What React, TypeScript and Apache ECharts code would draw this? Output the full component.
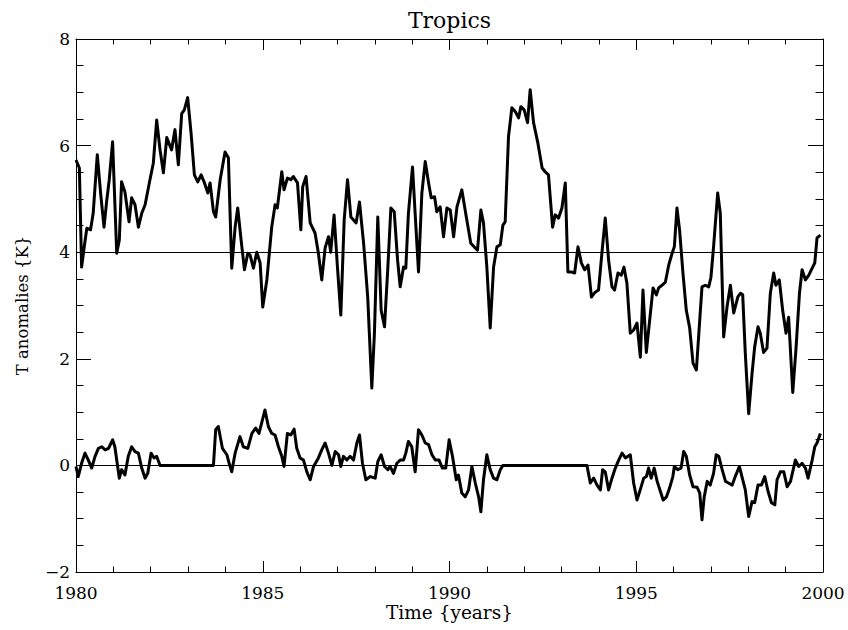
import React, { useEffect, useRef } from "react";
import * as echarts from "echarts";

const titleText = "Tropics";
const xTitle = "Time {years}";
const yTitle = "T anomalies {K}";
const xTicks = [1980, 1985, 1990, 1995, 2000];
const yTicks = [-2, 0, 2, 4, 6, 8];
const refLines = [4, 0];

const upperYears = [
  1980.00, 1980.09, 1980.15, 1980.23, 1980.29, 1980.39, 1980.46, 1980.57, 1980.66, 1980.75, 1980.82, 1980.89,
  1980.98, 1981.09, 1981.16, 1981.22, 1981.31, 1981.42, 1981.49, 1981.58, 1981.67, 1981.76, 1981.85,
  1981.98, 1982.07, 1982.16, 1982.25, 1982.34, 1982.43, 1982.56, 1982.65, 1982.74, 1982.83, 1982.90,
  1982.99, 1983.08, 1983.17, 1983.26, 1983.35, 1983.44, 1983.53, 1983.59, 1983.68, 1983.74, 1983.86,
  1983.99, 1984.08, 1984.17, 1984.26, 1984.33, 1984.42, 1984.51, 1984.60, 1984.66, 1984.75, 1984.84, 1984.93,
  1985.00, 1985.11, 1985.24, 1985.33, 1985.39, 1985.51, 1985.57, 1985.66, 1985.75, 1985.82, 1985.93,
  1986.02, 1986.07, 1986.16, 1986.27, 1986.40, 1986.49, 1986.58, 1986.67, 1986.76, 1986.82, 1986.91,
  1987.00, 1987.09, 1987.18, 1987.27, 1987.36, 1987.50, 1987.59, 1987.70, 1987.81, 1987.92, 1987.99,
  1988.08, 1988.17, 1988.26, 1988.35, 1988.43, 1988.52, 1988.61, 1988.68, 1988.77, 1988.83, 1988.90,
  1989.01, 1989.08, 1989.17, 1989.26, 1989.35, 1989.44, 1989.51, 1989.60, 1989.66, 1989.75, 1989.84, 1989.93,
  1990.02, 1990.11, 1990.20, 1990.33, 1990.45, 1990.57, 1990.66, 1990.75, 1990.84, 1990.91,
  1991.00, 1991.09, 1991.18, 1991.27, 1991.36, 1991.43, 1991.49, 1991.58, 1991.67, 1991.76, 1991.85, 1991.91,
  1992.00, 1992.09, 1992.16, 1992.25, 1992.36, 1992.48, 1992.56, 1992.65, 1992.76, 1992.83, 1992.92,
  1993.01, 1993.10, 1993.17, 1993.26, 1993.35, 1993.44, 1993.53, 1993.62, 1993.71, 1993.80, 1993.90, 1993.99,
  1994.08, 1994.17, 1994.26, 1994.35, 1994.42, 1994.51, 1994.60, 1994.67, 1994.75, 1994.84, 1994.93,
  1995.02, 1995.11, 1995.18, 1995.27, 1995.36, 1995.45, 1995.54, 1995.60, 1995.69, 1995.78, 1995.87, 1995.96,
  1996.02, 1996.09, 1996.16, 1996.25, 1996.34, 1996.43, 1996.52, 1996.61, 1996.70, 1996.76, 1996.85, 1996.94,
  1997.00, 1997.07, 1997.18, 1997.25, 1997.34, 1997.43, 1997.52, 1997.61, 1997.72, 1997.79, 1997.85, 1997.92,
  1998.01, 1998.10, 1998.17, 1998.26, 1998.32, 1998.41, 1998.50, 1998.59, 1998.68, 1998.74, 1998.83, 1998.92,
  1999.01, 1999.08, 1999.19, 1999.28, 1999.37, 1999.44, 1999.53, 1999.62, 1999.71, 1999.78, 1999.84, 1999.93,
];
const upperVals = [
  5.73, 5.58, 3.72, 4.15, 4.45, 4.42, 4.73, 5.83, 5.10, 4.47, 4.95, 5.36,
  6.07, 3.98, 4.23, 5.32, 5.13, 4.57, 5.02, 4.89, 4.47, 4.73, 4.89,
  5.36, 5.67, 6.48, 5.92, 5.49, 6.15, 5.92, 6.30, 5.64, 6.60, 6.67,
  6.90, 6.24, 5.45, 5.32, 5.45, 5.30, 5.11, 5.30, 4.76, 4.66, 5.36,
  5.88, 5.77, 3.70, 4.47, 4.83, 4.23, 3.67, 3.98, 3.95, 3.70, 4.00, 3.80,
  2.97, 3.48, 4.47, 4.89, 4.83, 5.51, 5.17, 5.39, 5.36, 5.42, 5.30,
  4.42, 5.23, 5.42, 4.55, 4.36, 3.98, 3.48, 4.08, 4.29, 4.00, 4.70,
  3.72, 2.82, 4.60, 5.36, 4.66, 4.55, 4.94, 4.17, 3.16, 1.45, 2.48,
  4.66, 2.91, 2.60, 3.72, 4.83, 4.76, 3.85, 3.35, 3.72, 3.70, 4.73,
  5.60, 4.73, 3.63, 5.11, 5.70, 5.30, 5.02, 5.04, 4.76, 4.85, 4.29, 4.83,
  4.79, 4.29, 4.85, 5.17, 4.66, 4.17, 4.10, 4.04, 4.79, 4.55,
  3.72, 2.58, 3.72, 4.10, 4.14, 4.51, 4.57, 6.17, 6.71, 6.64, 6.52, 6.73,
  6.67, 6.43, 7.05, 6.43, 6.07, 5.58, 5.51, 5.45, 4.47, 4.70, 4.64,
  4.83, 5.30, 3.63, 3.63, 3.61, 4.10, 3.80, 3.67, 3.76, 3.16, 3.25, 3.29,
  3.98, 4.64, 3.85, 3.35, 3.29, 3.61, 3.57, 3.72, 3.42, 2.48, 2.54,
  2.67, 2.03, 3.29, 2.12, 2.73, 3.33, 3.20, 3.33, 3.38, 3.44, 3.76, 3.98,
  4.10, 4.83, 4.42, 3.61, 2.91, 2.58, 1.92, 1.79, 2.73, 3.35, 3.38, 3.35,
  3.53, 4.10, 5.11, 4.73, 2.41, 2.97, 3.38, 2.86, 3.16, 3.23, 3.20, 2.10,
  0.97, 1.72, 2.22, 2.60, 2.48, 2.12, 2.20, 3.23, 3.61, 3.38, 3.48, 2.91,
  2.48, 2.78, 1.37, 2.22, 3.23, 3.67, 3.48, 3.57, 3.70, 3.80, 4.27, 4.32,
];

const lowerYears = [
  1980.00, 1980.06, 1980.15, 1980.24, 1980.33, 1980.42, 1980.51, 1980.60, 1980.69, 1980.78, 1980.87,
  1980.98, 1981.04, 1981.16, 1981.22, 1981.31, 1981.40, 1981.49, 1981.58, 1981.67, 1981.76, 1981.85, 1981.92,
  1982.01, 1982.09, 1982.16, 1982.25, 1983.68, 1983.74, 1983.81, 1983.92,
  1984.04, 1984.10, 1984.17, 1984.26, 1984.39, 1984.48, 1984.60, 1984.71, 1984.81, 1984.90,
  1985.06, 1985.15, 1985.24, 1985.33, 1985.42, 1985.51, 1985.57, 1985.66, 1985.75, 1985.84, 1985.91,
  1986.00, 1986.09, 1986.18, 1986.27, 1986.36, 1986.49, 1986.58, 1986.67, 1986.76, 1986.85, 1986.94,
  1987.03, 1987.09, 1987.16, 1987.25, 1987.34, 1987.43, 1987.52, 1987.59, 1987.67, 1987.76, 1987.88,
  1988.01, 1988.08, 1988.17, 1988.26, 1988.35, 1988.41, 1988.50, 1988.59, 1988.68, 1988.77, 1988.83, 1988.90, 1988.99,
  1989.08, 1989.17, 1989.26, 1989.35, 1989.44, 1989.53, 1989.62, 1989.72, 1989.81, 1989.90, 1989.99,
  1990.08, 1990.18, 1990.24, 1990.33, 1990.42, 1990.51, 1990.60, 1990.69, 1990.78, 1990.84, 1990.91,
  1991.00, 1991.09, 1991.18, 1991.27, 1991.36, 1991.43, 1993.68, 1993.77, 1993.86, 1993.95,
  1994.04, 1994.10, 1994.17, 1994.26, 1994.35, 1994.44, 1994.53, 1994.62, 1994.71, 1994.84, 1994.93,
  1995.02, 1995.11, 1995.20, 1995.27, 1995.33, 1995.40, 1995.48, 1995.56, 1995.72, 1995.81, 1995.89, 1995.98,
  1996.02, 1996.11, 1996.20, 1996.27, 1996.34, 1996.43, 1996.52, 1996.63, 1996.70, 1996.76, 1996.82, 1996.90, 1996.98,
  1997.07, 1997.14, 1997.21, 1997.30, 1997.39, 1997.47, 1997.57, 1997.65, 1997.76, 1997.92,
  1998.01, 1998.10, 1998.17, 1998.26, 1998.35, 1998.44, 1998.53, 1998.62, 1998.71, 1998.77, 1998.86, 1998.95,
  1999.04, 1999.13, 1999.26, 1999.35, 1999.44, 1999.53, 1999.60, 1999.71, 1999.78, 1999.84, 1999.93,
];
const lowerVals = [
  -0.02, -0.21, 0.04, 0.23, 0.10, -0.05, 0.17, 0.32, 0.35, 0.29, 0.32,
  0.48, 0.35, -0.24, -0.08, -0.18, 0.17, 0.35, 0.26, 0.23, -0.05, -0.24, -0.15,
  0.23, 0.14, 0.17, 0.00, 0.00, 0.67, 0.73, 0.32,
  0.20, 0.04, -0.12, 0.23, 0.54, 0.35, 0.32, 0.60, 0.70, 0.60,
  1.04, 0.73, 0.60, 0.57, 0.35, 0.17, -0.02, 0.60, 0.57, 0.68, 0.32,
  0.14, 0.10, -0.12, -0.27, -0.02, 0.14, 0.29, 0.42, 0.23, 0.00, 0.26,
  0.20, -0.02, 0.17, 0.10, 0.17, 0.10, 0.42, 0.57, 0.04, -0.27, -0.21,
  -0.24, 0.07, 0.20, -0.02, -0.08, -0.02, -0.15, 0.04, 0.10, 0.10, 0.23, 0.45, 0.35,
  -0.12, 0.67, 0.57, 0.42, 0.39, 0.20, 0.10, 0.10, -0.05, -0.05, 0.48,
  0.17, -0.27, -0.18, -0.52, -0.59, -0.46, -0.02, -0.33, -0.59, -0.87, -0.27,
  0.20, -0.08, -0.24, -0.27, -0.08, 0.00, 0.00, -0.33, -0.24, -0.37,
  -0.46, -0.08, -0.12, -0.46, -0.24, -0.05, 0.10, 0.23, 0.14, 0.20, -0.33,
  -0.65, -0.45, -0.24, -0.21, -0.05, -0.24, -0.05, -0.30, -0.65, -0.59, -0.43, -0.21,
  -0.02, -0.08, -0.05, 0.26, 0.17, -0.18, -0.40, -0.41, -0.52, -1.02, -0.59, -0.30, -0.37,
  -0.15, 0.20, 0.17, -0.08, -0.30, -0.33, -0.37, -0.21, -0.02, -0.46,
  -0.96, -0.68, -0.70, -0.37, -0.37, -0.21, -0.49, -0.70, -0.74, -0.27, -0.12, -0.12,
  -0.40, -0.30, 0.10, -0.02, 0.04, -0.05, -0.24, 0.10, 0.35, 0.42, 0.60,
];

const FONT = '"DejaVu Serif", serif';

function pairs(xs: number[], ys: number[]) {
  return xs.map((x, i) => [x, ys[i]]);
}

export default function App() {
  const ref = useRef<HTMLDivElement>(null);
  useEffect(() => {
    if (!ref.current) return;
    const chart = echarts.init(ref.current, null, { renderer: "svg" });
    const gridLeft = 76;
    const gridRight = 25;
    const gridTop = 39;
    const gridBottom = 58;
    const W = 848;
    const H = 630;
    const cx = gridLeft + (W - gridLeft - gridRight) / 2;
    const cy = gridTop + (H - gridTop - gridBottom) / 2;
    const axisColor = "#000";
    const xBase = (pos: "bottom" | "top", showLabel: boolean) => ({
      type: "value",
      position: pos,
      min: xTicks[0],
      max: xTicks[xTicks.length - 1],
      interval: xTicks[1] - xTicks[0],
      axisLine: { show: true, onZero: false, lineStyle: { color: axisColor, width: 1 } },
      axisTick: { show: true, inside: true, length: 11, lineStyle: { color: axisColor, width: 1 } },
      minorTick: { show: true, splitNumber: 5, length: 5.5, lineStyle: { color: axisColor, width: 1 } },
      splitLine: { show: false },
      minorSplitLine: { show: false },
      axisLabel: {
        show: showLabel,
        formatter: (v: number) => String(v),
        color: "#000",
        fontSize: 17,
        fontFamily: FONT,
        margin: 12,
        showMinLabel: true,
        showMaxLabel: true,
      },
    });
    const yBase = (pos: "left" | "right", showLabel: boolean) => ({
      type: "value",
      position: pos,
      min: yTicks[0],
      max: yTicks[yTicks.length - 1],
      interval: yTicks[1] - yTicks[0],
      axisLine: { show: true, onZero: false, lineStyle: { color: axisColor, width: 1 } },
      axisTick: { show: true, inside: true, length: 15, lineStyle: { color: axisColor, width: 1 } },
      minorTick: { show: true, splitNumber: 4, length: 7.5, lineStyle: { color: axisColor, width: 1 } },
      splitLine: { show: false },
      minorSplitLine: { show: false },
      axisLabel: {
        show: showLabel,
        formatter: (v: number) => (v < 0 ? "\u2212" + Math.abs(v) : String(v)),
        color: "#000",
        fontSize: 17,
        fontFamily: FONT,
        margin: 6,
        showMinLabel: true,
        showMaxLabel: true,
      },
    });
    chart.setOption({
      animation: false,
      backgroundColor: "#fff",
      textStyle: { fontFamily: FONT },
      grid: { left: gridLeft, right: gridRight, top: gridTop, bottom: gridBottom, containLabel: false },
      xAxis: [xBase("bottom", true), xBase("top", false)],
      yAxis: [yBase("left", true), yBase("right", false)],
      series: [
        {
          type: "line",
          xAxisIndex: 0,
          yAxisIndex: 0,
          data: pairs(upperYears, upperVals),
          showSymbol: false,
          symbol: "none",
          lineStyle: { color: "#000", width: 3, join: "round" },
          markLine: {
            silent: true,
            symbol: ["none", "none"],
            label: { show: false },
            lineStyle: { color: "#000", width: 1, type: "solid" },
            data: refLines.map((v) => ({ yAxis: v })),
          },
          z: 3,
        },
        {
          type: "line",
          xAxisIndex: 0,
          yAxisIndex: 0,
          data: pairs(lowerYears, lowerVals),
          showSymbol: false,
          symbol: "none",
          lineStyle: { color: "#000", width: 3, join: "round" },
          z: 3,
        },
      ],
      graphic: [
        {
          type: "text",
          x: cx,
          y: 20,
          style: { text: titleText, fill: "#000", fontSize: 22, fontFamily: FONT, align: "center", verticalAlign: "middle" },
        },
        {
          type: "text",
          x: cx,
          y: 612,
          style: { text: xTitle, fill: "#000", fontSize: 18.5, fontFamily: FONT, align: "center", verticalAlign: "middle" },
        },
        {
          type: "text",
          x: 22,
          y: cy,
          rotation: Math.PI / 2,
          style: { text: yTitle, fill: "#000", fontSize: 16.5, fontFamily: FONT, align: "center", verticalAlign: "middle" },
        },
      ],
    });
    return () => chart.dispose();
  }, []);
  return <div ref={ref} style={{ position: "fixed", left: 0, top: 0, width: 848, height: 630 }} />;
}
